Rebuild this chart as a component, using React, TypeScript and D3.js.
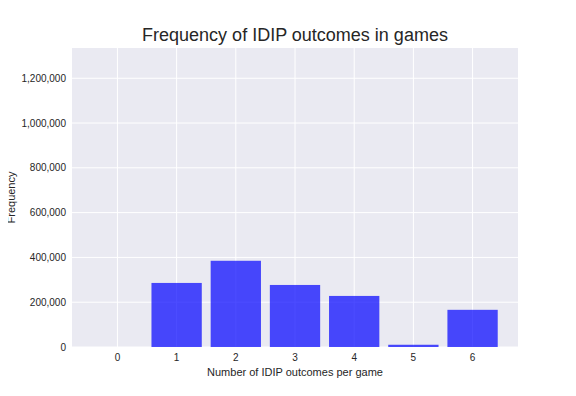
import React, { useRef, useEffect } from "react";
import * as d3 from "d3";

const categories = [0, 1, 2, 3, 4, 5, 6];
const counts = [0, 286000, 385000, 277000, 228000, 10000, 166000];
const yTicks = [0, 200000, 400000, 600000, 800000, 1000000, 1200000];

const WIDTH = 576;
const HEIGHT = 396;
const MARGINS = { top: 48, right: 58, bottom: 49, left: 72 };
const BAR_WIDTH = 0.85;

const App: React.FC = () => {
  const svgRef = useRef<SVGSVGElement | null>(null);

  useEffect(() => {
    if (!svgRef.current) return;
    d3.select(svgRef.current).selectAll("*").remove();

    const innerWidth = WIDTH - MARGINS.left - MARGINS.right;
    const innerHeight = HEIGHT - MARGINS.top - MARGINS.bottom;

    const svg = d3.select(svgRef.current);
    const font = "'Liberation Sans', Arial, sans-serif";

    // matplotlib style margins around the bar extents
    const lo = categories[0] - BAR_WIDTH / 2;
    const hi = categories[categories.length - 1] + BAR_WIDTH / 2;
    const pad = (hi - lo) * 0.05;
    const x = d3.scaleLinear().domain([lo - pad, hi + pad]).range([0, innerWidth]);
    const y = d3.scaleLinear().domain([0, 1335000]).range([innerHeight, 0]);

    const g = svg
      .append("g")
      .attr("transform", `translate(${MARGINS.left},${MARGINS.top})`);

    g.append("rect")
      .attr("width", innerWidth)
      .attr("height", innerHeight)
      .attr("fill", "#eaeaf2");

    // grid
    g.selectAll("line.ygrid")
      .data(yTicks)
      .join("line")
      .attr("class", "ygrid")
      .attr("x1", 0)
      .attr("x2", innerWidth)
      .attr("y1", (d) => y(d))
      .attr("y2", (d) => y(d))
      .attr("stroke", "#fff")
      .attr("stroke-width", 1);

    g.selectAll("line.xgrid")
      .data(categories)
      .join("line")
      .attr("class", "xgrid")
      .attr("x1", (d) => x(d))
      .attr("x2", (d) => x(d))
      .attr("y1", 0)
      .attr("y2", innerHeight)
      .attr("stroke", "#fff")
      .attr("stroke-width", 1);

    // bars
    g.selectAll("rect.bar")
      .data(categories)
      .join("rect")
      .attr("class", "bar")
      .attr("x", (d) => x(d - BAR_WIDTH / 2))
      .attr("width", (d) => x(d + BAR_WIDTH / 2) - x(d - BAR_WIDTH / 2))
      .attr("y", (_, i) => y(counts[i]))
      .attr("height", (_, i) => innerHeight - y(counts[i]))
      .attr("fill", "blue")
      .attr("fill-opacity", 0.7);

    // tick labels
    const fmt = d3.format(",");
    g.selectAll("text.ytick")
      .data(yTicks)
      .join("text")
      .attr("class", "ytick")
      .attr("x", -6)
      .attr("y", (d) => y(d))
      .attr("dy", "0.35em")
      .attr("text-anchor", "end")
      .attr("font-family", font)
      .attr("font-size", 10)
      .attr("fill", "#262626")
      .text((d) => fmt(d));

    g.selectAll("text.xtick")
      .data(categories)
      .join("text")
      .attr("class", "xtick")
      .attr("x", (d) => x(d))
      .attr("y", innerHeight + 14)
      .attr("text-anchor", "middle")
      .attr("font-family", font)
      .attr("font-size", 10)
      .attr("fill", "#262626")
      .text((d) => String(d));

    // axis labels
    g.append("text")
      .attr("x", innerWidth / 2)
      .attr("y", innerHeight + 29)
      .attr("text-anchor", "middle")
      .attr("font-family", font)
      .attr("font-size", 11)
      .attr("fill", "#262626")
      .text("Number of IDIP outcomes per game");

    g.append("text")
      .attr("transform", `translate(-57,${innerHeight / 2}) rotate(-90)`)
      .attr("text-anchor", "middle")
      .attr("font-family", font)
      .attr("font-size", 11)
      .attr("fill", "#262626")
      .text("Frequency");

    // title
    svg
      .append("text")
      .attr("x", MARGINS.left + innerWidth / 2)
      .attr("y", MARGINS.top - 7)
      .attr("text-anchor", "middle")
      .attr("font-family", font)
      .attr("font-size", 18)
      .attr("fill", "#262626")
      .text("Frequency of IDIP outcomes in games");
  }, []);

  return (
    <svg
      ref={svgRef}
      width={WIDTH}
      height={HEIGHT}
      style={{ display: "block", margin: "-8px", background: "#fff" }}
    />
  );
};

export default App;
